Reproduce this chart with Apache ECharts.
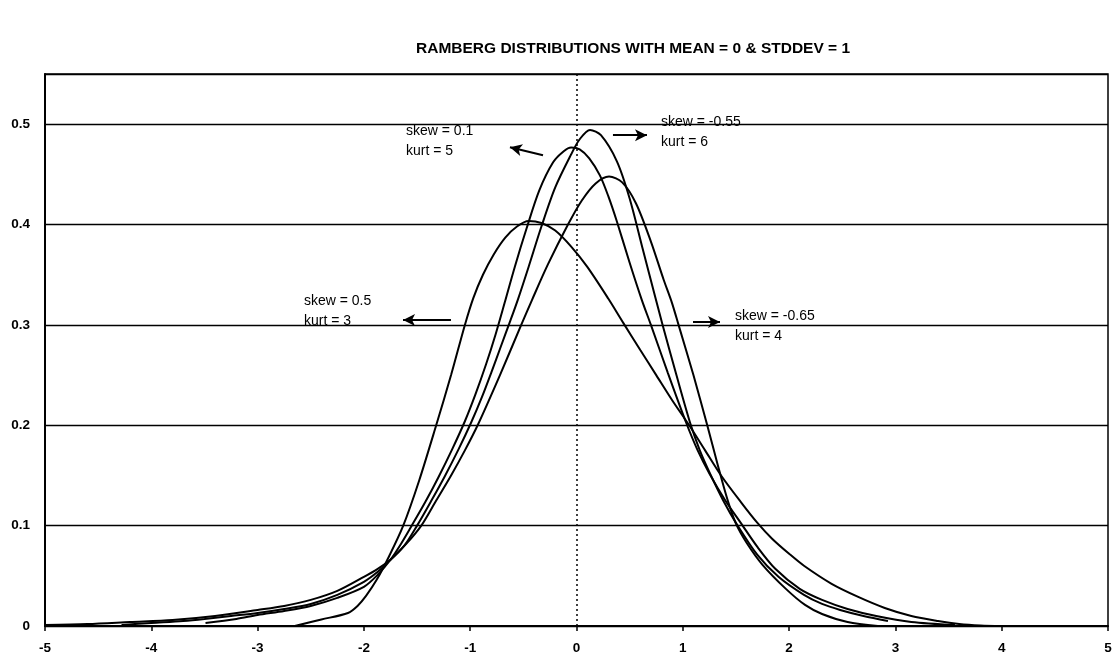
<!DOCTYPE html>
<html><head><meta charset="utf-8">
<script src="https://cdn.jsdelivr.net/npm/echarts@6/dist/echarts.min.js"></script>
<style>html,body{margin:0;padding:0;background:#fff}#c{width:1115px;height:662px}</style>
</head><body><div id="c"></div>
<script>
const titleText = 'RAMBERG DISTRIBUTIONS WITH MEAN = 0 & STDDEV = 1';
const seriesNames = ['skew = 0.5, kurt = 3', 'skew = 0.1, kurt = 5', 'skew = -0.55, kurt = 6', 'skew = -0.65, kurt = 4'];

const skew05kurt3 = [[-2.65,0],[-2.4,0.0065],[-2.15,0.013],[-2.06,0.02],[-1.98,0.03],[-1.88,0.046],[-1.77,0.068],[-1.63,0.1],[-1.48,0.145],[-1.32,0.2],[-1.18,0.25],[-1.05,0.3],[-0.97,0.327],[-0.88,0.35],[-0.78,0.37],[-0.67,0.387],[-0.56,0.398],[-0.45,0.4035],[-0.33,0.4015],[-0.2,0.394],[-0.05,0.378],[0.1,0.358],[0.3,0.326],[0.44,0.302],[0.6,0.275],[0.75,0.25],[0.9,0.225],[1.06,0.2],[1.21,0.175],[1.36,0.15],[1.55,0.123],[1.7,0.103],[1.84,0.087],[2.0,0.072],[2.14,0.06],[2.4,0.042],[2.65,0.029],[2.9,0.018],[3.15,0.01],[3.4,0.005],[3.6,0.002],[3.8,0.0005],[4.0,0]];

const skew01kurt5 = [[-3.49,0.003],[-3.2,0.007],[-3.0,0.011],[-2.75,0.015],[-2.5,0.02],[-2.25,0.028],[-2.0,0.039],[-1.87,0.051],[-1.75,0.066],[-1.65,0.082],[-1.55,0.1],[-1.42,0.124],[-1.3,0.148],[-1.17,0.176],[-1.05,0.204],[-0.95,0.231],[-0.85,0.261],[-0.76,0.291],[-0.676,0.322],[-0.58,0.358],[-0.47,0.396],[-0.35,0.434],[-0.22,0.462],[-0.12,0.473],[-0.05,0.4767],[0.03,0.475],[0.12,0.466],[0.22,0.449],[0.3,0.428],[0.38,0.403],[0.5,0.362],[0.614,0.325],[0.7,0.3],[0.86,0.252],[1.03,0.203],[1.14,0.175],[1.25,0.152],[1.4,0.125],[1.55,0.102],[1.7,0.079],[1.87,0.057],[2.1,0.037],[2.31,0.026],[2.55,0.017],[2.82,0.01],[3.15,0.004],[3.56,0.001]];

const skewm055kurt6 = [[-5.0,0.001],[-4.6,0.002],[-4.2,0.004],[-3.8,0.006],[-3.4,0.01],[-3.0,0.016],[-2.75,0.02],[-2.5,0.026],[-2.25,0.035],[-2.0,0.049],[-1.87,0.057],[-1.75,0.066],[-1.62,0.08],[-1.5,0.1],[-1.37,0.124],[-1.24,0.149],[-1.11,0.176],[-0.99,0.203],[-0.89,0.228],[-0.8,0.253],[-0.71,0.279],[-0.63,0.302],[-0.549,0.326],[-0.45,0.358],[-0.33,0.398],[-0.2,0.437],[-0.05,0.47],[0.03,0.485],[0.127,0.4943],[0.23,0.489],[0.38,0.463],[0.5,0.426],[0.62,0.377],[0.74,0.328],[0.81,0.3],[0.94,0.25],[1.07,0.202],[1.16,0.175],[1.26,0.151],[1.38,0.125],[1.51,0.101],[1.7,0.071],[1.9,0.049],[2.14,0.031],[2.31,0.022],[2.48,0.016],[2.7,0.01],[2.93,0.005]];

const skewm065kurt4 = [[-4.28,0.001],[-4.0,0.003],[-3.7,0.005],[-3.5,0.007],[-3.25,0.01],[-3.0,0.013],[-2.75,0.017],[-2.5,0.022],[-2.25,0.031],[-2.0,0.044],[-1.87,0.054],[-1.75,0.066],[-1.6,0.082],[-1.46,0.1],[-1.32,0.125],[-1.18,0.15],[-1.05,0.175],[-0.93,0.2],[-0.72,0.25],[-0.52,0.3],[-0.418,0.325],[-0.27,0.36],[-0.08,0.4],[0.05,0.424],[0.18,0.441],[0.306,0.4478],[0.43,0.442],[0.56,0.421],[0.7,0.383],[0.82,0.345],[0.898,0.322],[0.96,0.3],[1.1,0.25],[1.23,0.2],[1.33,0.16],[1.42,0.126],[1.5,0.102],[1.6,0.083],[1.75,0.061],[1.97,0.037],[2.15,0.021],[2.31,0.012],[2.55,0.004],[2.835,0]];

const xTickLabels = ['-5','-4','-3','-2','-1','0','1','2','3','4','5'];
const yTickLabels = ['0','0.1','0.2','0.3','0.4','0.5'];

// annotation texts and positions (data units)
const noteTexts = ['skew = 0.5\nkurt = 3', 'skew = 0.1\nkurt = 5', 'skew = -0.55\nkurt = 6', 'skew = -0.65\nkurt = 4'];
const noteX = [-2.564, -1.604, 0.795, 1.491];
const noteY = [0.314, 0.4836, 0.4919, 0.299];
// arrows: tail -> head (data units)
const arrowTailX = [-1.181, -0.315, 0.343, 1.096];
const arrowTailY = [0.305, 0.469, 0.489, 0.303];
const arrowHeadX = [-1.632, -0.626, 0.663, 1.350];
const arrowHeadY = [0.305, 0.477, 0.489, 0.303];

const FONT = '"Liberation Sans", Arial, sans-serif';
const chart = echarts.init(document.getElementById('c'), null, {renderer: 'canvas'});
const curves = [skew05kurt3, skew01kurt5, skewm055kurt6, skewm065kurt4];

const arrowData = arrowTailX.map((tx, i) => [
  {coord: [tx, arrowTailY[i]]},
  {coord: [arrowHeadX[i], arrowHeadY[i]]}
]);

const series = curves.map((d, i) => ({
  name: seriesNames[i],
  type: 'line',
  data: d,
  smooth: 0.3,
  showSymbol: false,
  symbol: 'none',
  lineStyle: {color: '#000', width: 2},
  itemStyle: {color: '#000'},
  silent: true,
  z: 3
}));

series[0].markLine = {
  silent: true, symbol: 'none',
  label: {show: false},
  lineStyle: {color: '#000', width: 1.5, type: [2, 3]},
  data: [{xAxis: 0}]
};
series[1].markLine = {
  silent: true, symbol: ['none', 'arrow'], symbolSize: [9, 12],
  label: {show: false},
  lineStyle: {color: '#000', width: 2, type: 'solid'},
  data: arrowData
};

chart.setOption({
  animation: false,
  backgroundColor: '#fff',
  title: {
    text: titleText, left: 411, top: 36,
    textStyle: {fontFamily: FONT, fontSize: 15.5, fontWeight: 'bold', color: '#000'}
  },
  grid: {left: 45, right: 7, top: 74, bottom: 36, show: true, borderColor: '#000', borderWidth: 1.5, backgroundColor: 'transparent'},
  xAxis: {
    type: 'value', min: -5, max: 5, interval: 1,
    axisLine: {onZero: false, lineStyle: {color: '#000', width: 2}},
    axisTick: {show: true, inside: false, length: 5, lineStyle: {color: '#000', width: 1.5}},
    axisLabel: {color: '#000', fontFamily: FONT, fontSize: 13.5, fontWeight: 'bold', margin: 15,
      formatter: v => { const i = Math.round(v) + 5; return xTickLabels[i] !== undefined ? xTickLabels[i] : ''; }},
    splitLine: {show: false}
  },
  yAxis: {
    type: 'value', min: 0, max: 0.55, interval: 0.1,
    axisLine: {show: true, onZero: false, lineStyle: {color: '#000', width: 2}},
    axisTick: {show: false},
    axisLabel: {color: '#000', fontFamily: FONT, fontSize: 13.5, fontWeight: 'bold', margin: 15,
      formatter: v => { const i = Math.round(v * 10); return (Math.abs(v * 10 - i) < 1e-6 && yTickLabels[i] !== undefined) ? yTickLabels[i] : ''; }},
    splitLine: {show: true, lineStyle: {color: '#000', width: 1.3}}
  },
  series: series
});

const graphics = noteTexts.map((t, i) => {
  const p = chart.convertToPixel({gridIndex: 0}, [noteX[i], noteY[i]]);
  return {
    type: 'text', x: p[0], y: p[1], silent: true, z: 10,
    style: {text: t, fill: '#000', font: '14px ' + FONT, align: 'left', verticalAlign: 'middle', lineHeight: 20}
  };
});
chart.setOption({graphic: graphics});
</script>
</body></html>
